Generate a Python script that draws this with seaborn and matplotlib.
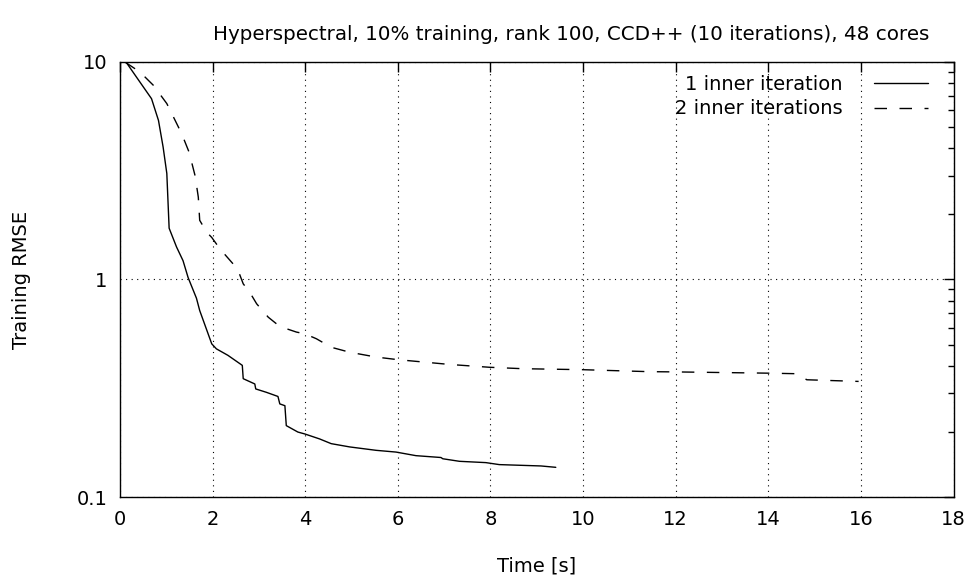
import numpy as np
import pandas as pd
import seaborn as sns
import matplotlib.pyplot as plt
from matplotlib.ticker import LogLocator, FixedLocator, NullFormatter

# 1 inner iteration (solid)
t_one = [0.1, 0.14, 0.43, 0.68, 0.83, 0.93, 1.01, 1.06, 1.22, 1.36, 1.47, 1.65, 1.72, 1.98,
         2.08, 2.33, 2.64, 2.66, 2.91, 2.93, 3.16, 3.41, 3.45, 3.56, 3.59, 3.84, 3.99,
         4.31, 4.56, 4.96, 5.53, 5.96, 6.39, 6.93, 6.97, 7.33, 7.90, 8.19, 9.09, 9.41]
r_one = [10.0, 9.9, 8.07, 6.77, 5.38, 4.06, 3.07, 1.72, 1.41, 1.22, 1.02, 0.82, 0.72, 0.506,
         0.48, 0.448, 0.403, 0.35, 0.331, 0.314, 0.303, 0.29, 0.268, 0.263, 0.213, 0.199, 0.195,
         0.185, 0.176, 0.17, 0.164, 0.161, 0.155, 0.152, 0.15, 0.146, 0.144, 0.141, 0.139, 0.137]

# 2 inner iterations (dashed)
t_two = [0.1, 0.43, 0.72, 1.01, 1.19, 1.33, 1.49, 1.62, 1.69, 1.72, 1.87, 1.98, 2.16,
         2.44, 2.55, 2.66, 2.80, 2.95, 3.20, 3.45, 3.81, 3.99, 4.24, 4.56, 4.96, 5.53,
         6.0, 7.11, 7.97, 8.69, 9.98, 11.42, 12.0, 14.01, 14.58, 14.74, 14.83, 15.95]
r_two = [10.0, 8.98, 7.8, 6.43, 5.38, 4.68, 3.85, 3.0, 2.39, 1.87, 1.65, 1.56, 1.38,
         1.18, 1.1, 0.955, 0.874, 0.773, 0.671, 0.608, 0.573, 0.563, 0.534, 0.488, 0.463, 0.44,
         0.428, 0.407, 0.395, 0.389, 0.385, 0.377, 0.376, 0.371, 0.369, 0.356, 0.346, 0.34]

labels = ["1 inner iteration", "2 inner iterations"]

df = pd.concat([
    pd.DataFrame({"time": t_one, "rmse": r_one, "run": labels[0]}),
    pd.DataFrame({"time": t_two, "rmse": r_two, "run": labels[1]}),
])

sns.set_style("white")
plt.rcParams['font.family'] = ['DejaVu Sans']
plt.rcParams.update({"text.color": "black", "axes.labelcolor": "black",
                     "xtick.color": "black", "ytick.color": "black"})

fig = plt.figure(figsize=(9.76, 5.78), dpi=100)
ax = fig.add_axes([0.123, 0.14, 0.854, 0.753])

sns.lineplot(data=df, x="time", y="rmse", hue="run", style="run",
             palette=["black", "black"], dashes=[(None, None), (9, 9)],
             linewidth=1.0, sort=False, estimator=None, ax=ax)

ax.set_yscale("log")
ax.set_xlim(0, 18)
ax.set_ylim(0.1, 10)
ax.xaxis.set_major_locator(FixedLocator(np.arange(0, 19, 2)))
ax.yaxis.set_major_locator(FixedLocator([0.1, 1, 10]))
ax.yaxis.set_minor_locator(LogLocator(base=10, subs=np.arange(2, 10)))
ax.yaxis.set_minor_formatter(NullFormatter())
ax.set_yticklabels(["0.1", "1", "10"])

ax.grid(True, which="major", color="black", linestyle=(0, (1, 4)), linewidth=0.8)
ax.tick_params(which="both", direction="in", top=True, right=True, labelsize=14, pad=9)
ax.tick_params(which="major", length=7, width=1)
ax.tick_params(which="minor", length=4, width=1)
for s in ax.spines.values():
    s.set_color("black")
    s.set_linewidth(1)

ax.set_xlabel("Time [s]", fontsize=14, labelpad=20)
ax.set_ylabel("Training RMSE", fontsize=14, labelpad=33)
fig.text(0.585, 1 - 34 / 578, "Hyperspectral, 10% training, rank 100, CCD++ (10 iterations), 48 cores",
         fontsize=14.3, ha="center", va="center")

leg = ax.legend(loc="upper right", frameon=False, fontsize=14, markerfirst=False,
                handlelength=2.75, handletextpad=1.65, borderaxespad=0.0, labelspacing=0.3,
                bbox_to_anchor=(1 - 18 / 834, 1 - 5 / 435))
for t in leg.get_texts():
    t.set_ha("right")

fig.savefig("out.png", dpi=100)
